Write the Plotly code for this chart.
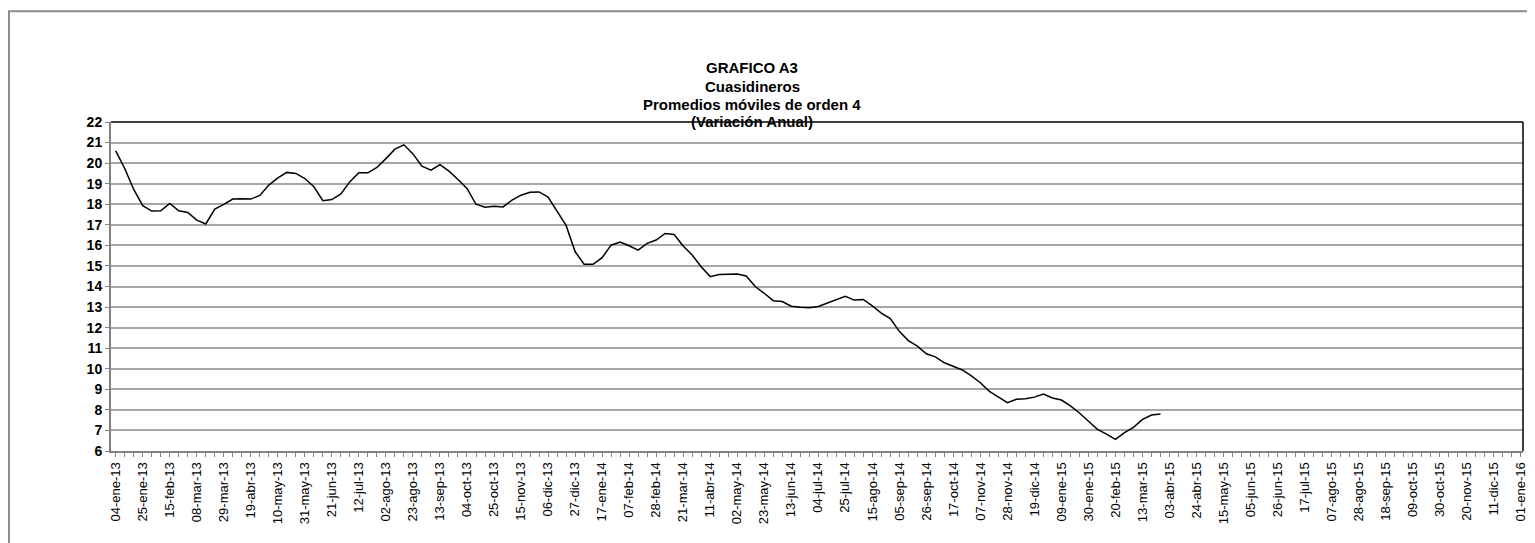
import datetime as dt
import plotly.graph_objects as go

# ---- data -------------------------------------------------------------
start_date = dt.date(2013, 1, 4)
# weekly observations, from 04-ene-13 to 27-mar-15
values = [
    20.60, 19.74, 18.72, 17.93, 17.67, 17.68, 18.04, 17.68, 17.60, 17.23,
    17.04, 17.76, 17.99, 18.25, 18.27, 18.25, 18.43, 18.93, 19.28, 19.55,
    19.50, 19.25, 18.85, 18.17, 18.23, 18.50, 19.10, 19.53, 19.53, 19.79,
    20.22, 20.68, 20.89, 20.45, 19.85, 19.66, 19.93, 19.61, 19.20, 18.77,
    18.00, 17.85, 17.90, 17.87, 18.20, 18.44, 18.58, 18.60, 18.35, 17.64,
    16.97, 15.70, 15.08, 15.08, 15.40, 16.01, 16.16, 15.98, 15.77, 16.10,
    16.26, 16.58, 16.53, 15.97, 15.53, 14.96, 14.48, 14.58, 14.59, 14.61,
    14.51, 14.00, 13.67, 13.31, 13.27, 13.04, 12.99, 12.97, 13.03, 13.19,
    13.35, 13.52, 13.34, 13.37, 13.06, 12.71, 12.44, 11.82, 11.37, 11.10,
    10.73, 10.58, 10.29, 10.13, 9.94, 9.65, 9.32, 8.90, 8.62, 8.35,
    8.52, 8.54, 8.62, 8.77, 8.58, 8.48, 8.19, 7.85, 7.45, 7.05,
    6.82, 6.57, 6.89, 7.15, 7.54, 7.75, 7.80,
]
dates = [start_date + dt.timedelta(weeks=i) for i in range(len(values))]

# axis: weekly ticks from 04-ene-13 to 01-ene-16, labelled every 3 weeks
month_abbr = ["ene", "feb", "mar", "abr", "may", "jun",
              "jul", "ago", "sep", "oct", "nov", "dic"]
tick_dates = [start_date + dt.timedelta(weeks=i) for i in range(157)]
tick_labels = [
    f"{d.day:02d}-{month_abbr[d.month - 1]}-{d.year % 100:02d}" if i % 3 == 0 else ""
    for i, d in enumerate(tick_dates)
]
y_ticks = list(range(6, 23))

title_lines = ["GRAFICO A3", "Cuasidineros",
               "Promedios móviles de orden 4", "(Variación Anual)"]

# ---- figure -----------------------------------------------------------
# the page body adds an 8px offset; positions below are in page pixels
OFF = 8
W, H = 1535, 543
L, R, T, B = 111 - OFF, 1535 - (1522.7 - OFF), 121.5 - OFF, 543 - (451.5 - OFF)
pw, ph = W - L - R, H - T - B

def px_x(p):
    return (p - OFF - L) / pw

def px_y(p):
    return (H - B - (p - OFF)) / ph

fig = go.Figure()
fig.add_trace(go.Scatter(
    x=dates, y=values, mode="lines",
    line=dict(color="black", width=1.5),
    hoverinfo="x+y", showlegend=False,
))

title_y = [67, 85.5, 103.5, 121]
annotations = [
    dict(text=f"<b>{line}</b>", xref="paper", yref="paper",
         x=px_x(752), y=px_y(yc), xanchor="center", yanchor="middle",
         showarrow=False, font=dict(size=15, color="black"))
    for line, yc in zip(title_lines, title_y)
]

fig.update_layout(
    width=W, height=H,
    margin=dict(l=L, r=R, t=T, b=B),
    paper_bgcolor="white", plot_bgcolor="white",
    font=dict(family="Arial, Liberation Sans, sans-serif", color="black"),
    xaxis=dict(
        type="date",
        range=["2012-12-31 08:00", "2016-01-02 17:00"],
        tickmode="array", tickvals=tick_dates, ticktext=tick_labels,
        tickangle=-90, ticks="outside", ticklen=4, tickwidth=1,
        tickcolor="#808080",
        showline=True, linecolor="#808080", linewidth=2,
        showgrid=False, zeroline=False,
        tickfont=dict(size=13, color="black"),
    ),
    yaxis=dict(
        range=[6, 22], tickmode="array", tickvals=y_ticks,
        ticks="outside", ticklen=4, tickcolor="#808080",
        showline=True, linecolor="#808080", linewidth=2,
        showgrid=True, gridcolor="#a6a6a6", gridwidth=2,
        zeroline=False,
        tickfont=dict(size=14, color="black", weight="bold"),
    ),
    shapes=[
        # plot-area border (top and right black)
        dict(type="line", xref="paper", yref="paper", x0=0, x1=1, y0=1, y1=1,
             line=dict(color="black", width=1.5), layer="above"),
        dict(type="line", xref="paper", yref="paper", x0=1, x1=1, y0=0, y1=1,
             line=dict(color="black", width=1.5), layer="above"),
        # outer chart frame
        dict(type="rect", xref="paper", yref="paper",
             x0=px_x(9), x1=px_x(1533), y0=px_y(600), y1=px_y(10.5),
             line=dict(color="#8c8c8c", width=2), layer="below"),
    ],
    annotations=annotations,
)

fig.write_html("out.html")
